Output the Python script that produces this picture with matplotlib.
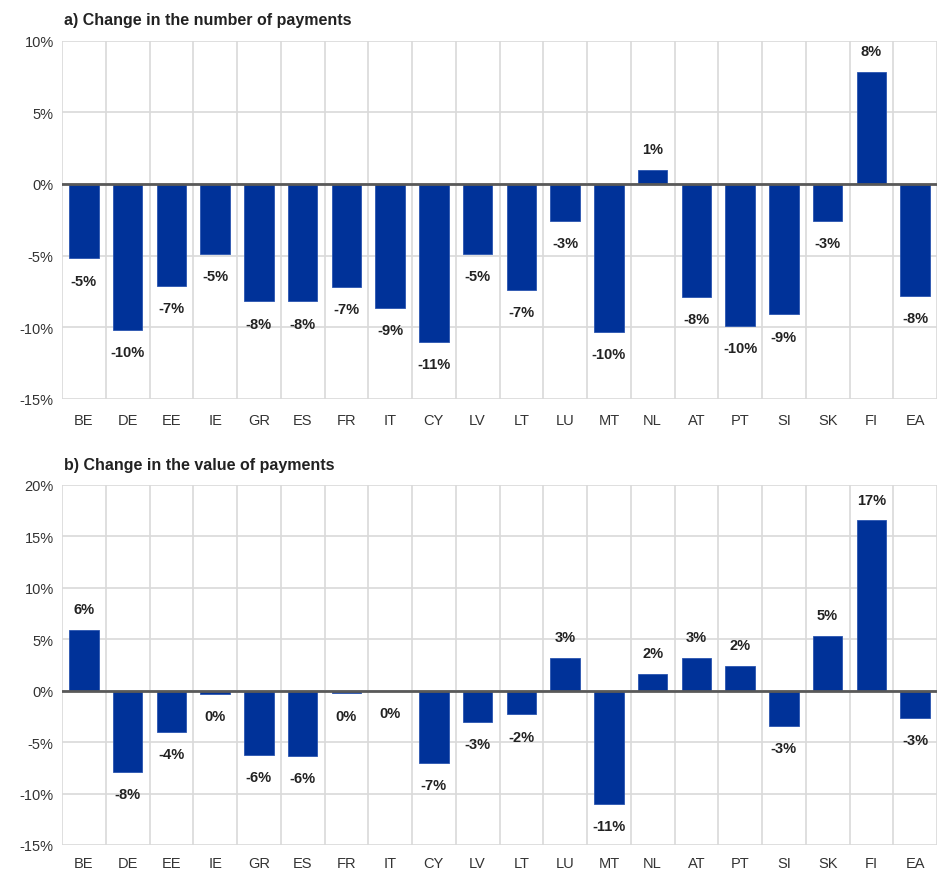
import matplotlib
matplotlib.use("Agg")
import matplotlib.pyplot as plt
import numpy as np

plt.rcParams['font.family'] = ['Liberation Sans', 'DejaVu Sans']

countries = ["BE", "DE", "EE", "IE", "GR", "ES", "FR", "IT", "CY", "LV",
             "LT", "LU", "MT", "NL", "AT", "PT", "SI", "SK", "FI", "EA"]
number_change = [-5.2, -10.2, -7.1, -4.9, -8.2, -8.2, -7.2, -8.65, -11.0, -4.9,
                 -7.4, -2.6, -10.3, 1.0, -7.9, -9.9, -9.1, -2.6, 7.8, -7.8]
value_change = [5.9, -7.9, -4.0, -0.3, -6.25, -6.35, -0.25, 0.0, -7.0, -3.0,
                -2.3, 3.15, -11.0, 1.6, 3.15, 2.45, -3.4, 5.3, 16.55, -2.65]
titles = ["a) Change in the number of payments", "b) Change in the value of payments"]
yticks_a = [-15, -10, -5, 0, 5, 10]
yticks_b = [-15, -10, -5, 0, 5, 10, 15, 20]

BLUE = "#003299"
GRID = "#d9d9d9"
ZERO = "#595959"

fig = plt.figure(figsize=(9.41, 8.70), dpi=100)
W, H = 941, 870
left_px, right_px = 62, 937
panels = [
    (number_change, yticks_a, 41.5, 400, titles[0], 20, 10),
    (value_change, yticks_b, 486, 846, titles[1], 466, 8),
]

for vals, yt, top_px, bot_px, title, title_y, xpad in panels:
    ax = fig.add_axes([left_px / W, 1 - bot_px / H, (right_px - left_px) / W, (bot_px - top_px) / H])
    x = np.arange(len(countries))
    ax.bar(x, vals, width=0.67, color=BLUE, edgecolor="#2a55b0", linewidth=0.6, zorder=3)
    ax.set_xlim(-0.5, len(countries) - 0.5)
    ax.set_ylim(yt[0], yt[-1])
    ax.set_yticks(yt)
    ax.set_yticklabels([f"{t}%" for t in yt], fontsize=10.5, color="#333333")
    ax.set_xticks(x)
    ax.set_xticklabels(countries, fontsize=10.5, color="#333333")
    ax.set_xticks(np.arange(-0.5, len(countries), 1.0), minor=True)
    ax.tick_params(axis='both', which='both', length=0)
    ax.tick_params(axis='x', which='major', pad=xpad)
    ax.tick_params(axis='y', which='major', pad=6)
    ax.grid(True, axis='y', which='major', color=GRID, linewidth=1.2, zorder=0)
    ax.grid(True, axis='x', which='minor', color=GRID, linewidth=1.2, zorder=0)
    ax.grid(False, axis='x', which='major')
    for s in ax.spines.values():
        s.set_visible(False)
    ax.axhline(0, color=ZERO, linewidth=2, zorder=4)
    for xi, v in zip(x, vals):
        lbl = f"{round(v):.0f}%"
        if lbl == "-0%":
            lbl = "0%"
        off = 15 if v > 0 else -16
        ax.annotate(lbl, (xi, v), xytext=(0, off), textcoords='offset points',
                    ha='center', va='center', fontsize=10.5, fontweight='bold',
                    color="#222222")
    fig.text(64 / W, 1 - title_y / H, title, fontsize=11.5, fontweight='bold',
             ha='left', va='center', color="#222222")

fig.savefig("out.png", dpi=100)
